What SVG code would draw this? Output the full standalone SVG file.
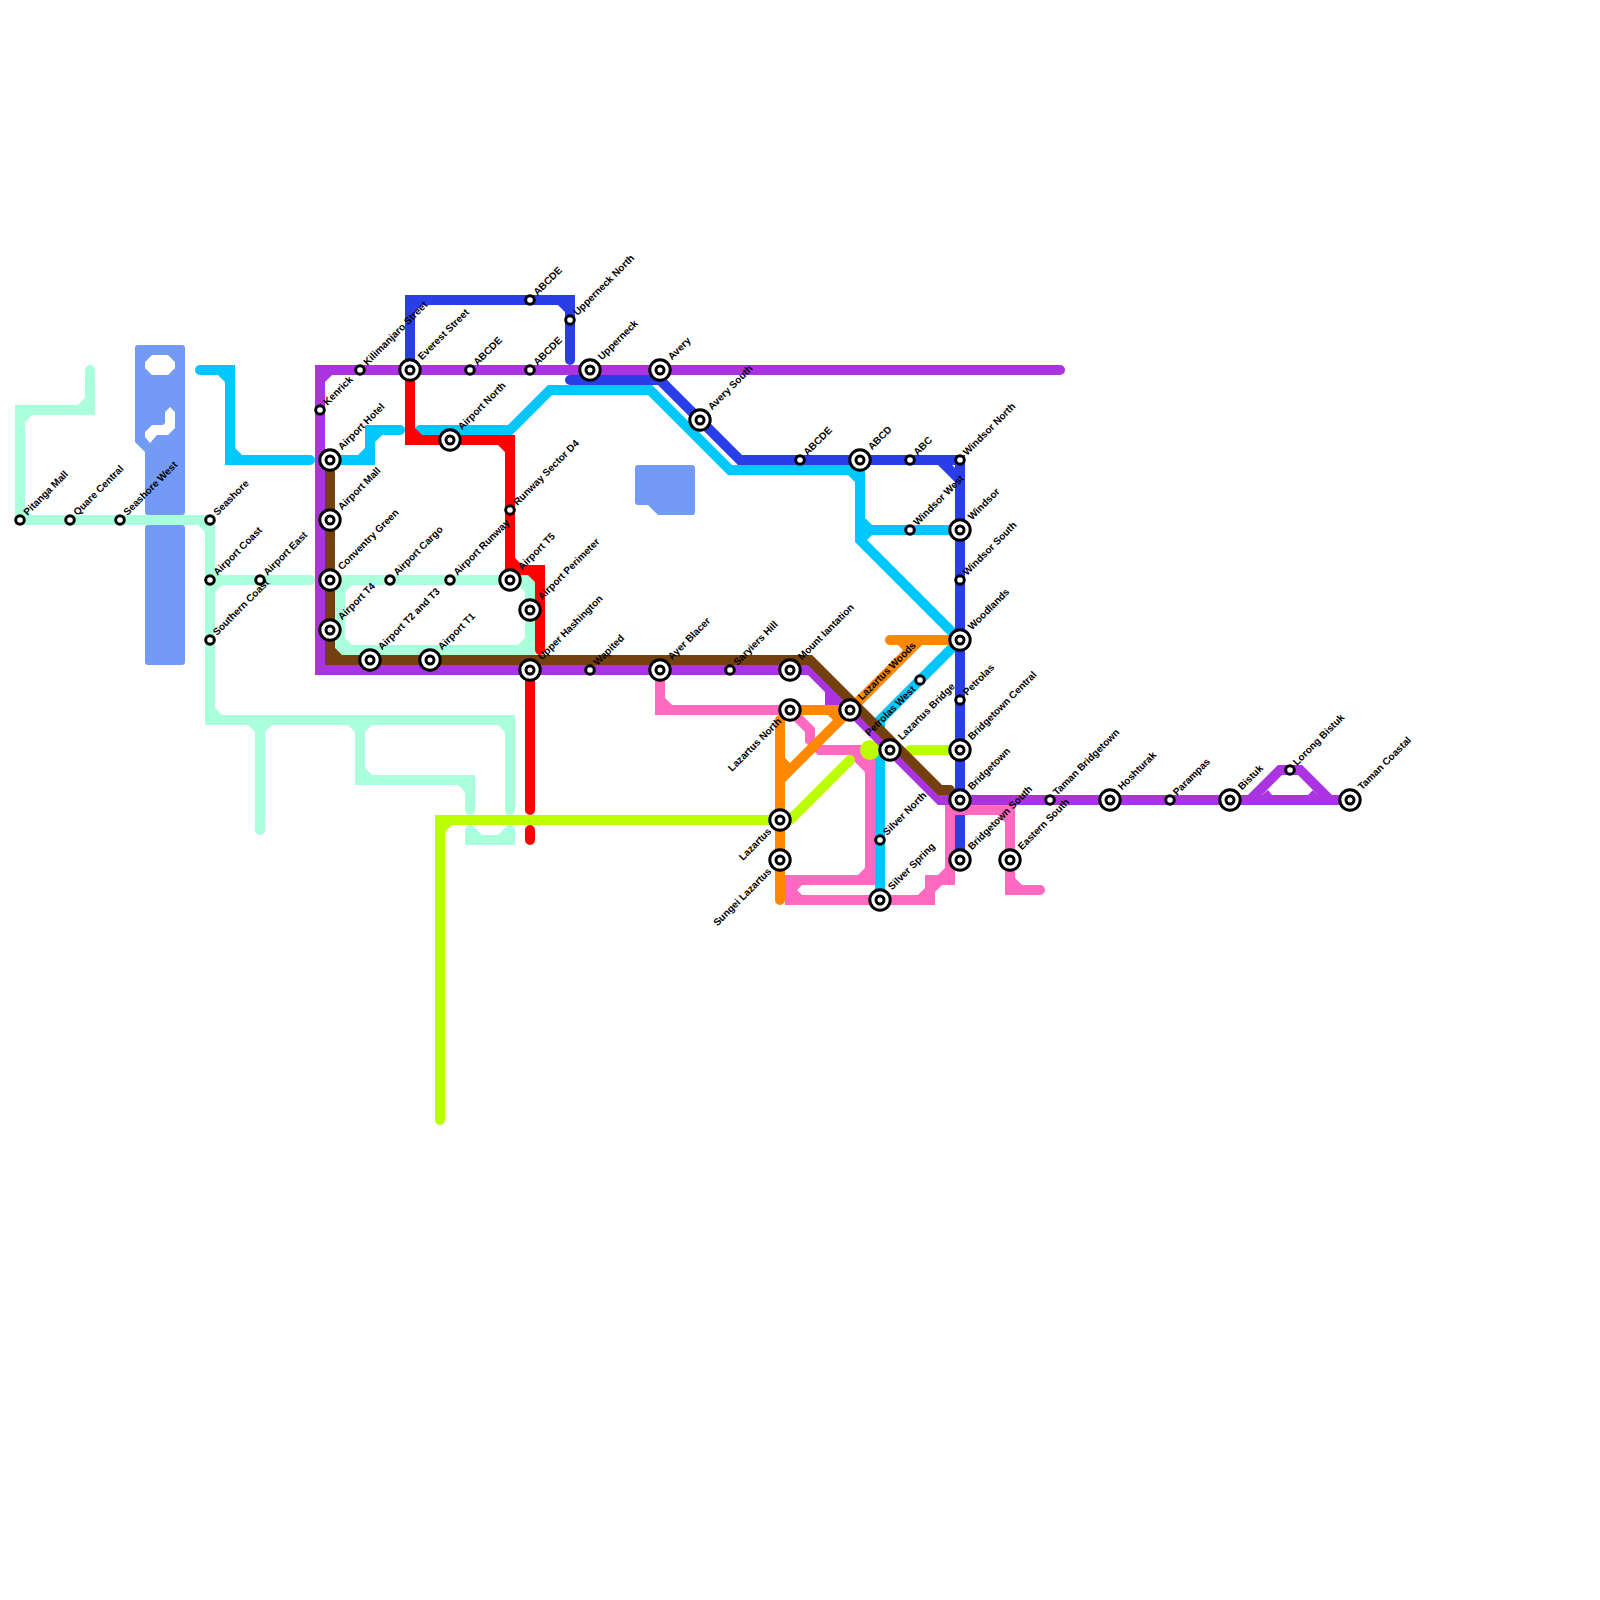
<svg xmlns="http://www.w3.org/2000/svg" width="1600" height="1600" viewBox="0 0 1600 1600">
<style>
.l{fill:none;stroke-width:10;stroke-linecap:round;stroke-linejoin:miter;stroke-miterlimit:4}
.mint{stroke:#aaffdd}.cyan{stroke:#00c8ff}.blue{stroke:#2a3ee8}.pink{stroke:#ff69c0}.lime{stroke:#bbff00}.purple{stroke:#aa35e0}.red{stroke:#ff0000}.orange{stroke:#ff8800}.brown{stroke:#75400f}
text{font-family:"Liberation Sans",Arial,sans-serif;font-size:10px;font-weight:bold;fill:#000}
.e{text-anchor:end}
</style>
<defs>
<g id="big"><circle r="10.2" fill="#fff" stroke="#000" stroke-width="3"/><circle r="4" fill="#fff" stroke="#000" stroke-width="3"/></g>
<g id="small"><circle r="4.3" fill="#fff" stroke="#000" stroke-width="3"/></g>
</defs>
<rect width="1600" height="1600" fill="#fff"/>
<g id="water" fill="#739bf5" fill-rule="evenodd">
<path d="M138 345H182Q185 345 185 348V512Q185 515 182 515H148Q145 515 145 512V452L135 442V348Q135 345 138 345ZM145 362L152 355H168L175 362V368L168 375H152L145 368ZM170 407L175 412V428L168 435H157L150 443L145 437V432L152 425H163L165 423V412Z"/>
<rect x="145" y="525" width="40" height="140" rx="3"/>
<path d="M638 465H692Q695 465 695 468V512Q695 515 692 515H658L648 505H638Q635 505 635 502V468Q635 465 638 465Z"/>
</g>
<g id="connectors">
<path class="l mint" d="M90 370V410H20V520H210V720H510V810M210 580H310M260 720V830M360 720V780H470V810M330 580H530V650H340V580M470 830V840H510V830M80 410L90 400M20 420L30 410M20 510L30 520M200 520L210 530M210 570L220 580M210 590L220 580M210 710L220 720M250 720L260 730M270 720L260 730M350 720L360 730M370 720L360 730M360 770L370 780M460 780L470 790M500 720L510 730M340 590L350 580M520 580L530 590M530 640L520 650M340 640L350 650M470 830L480 840M500 840L510 830"/>
<path class="l cyan" d="M200 370H230V460H310M330 460H370V430H400M420 430H510L550 390H650L730 470H860V540L960 640L880 720V900M860 530H960M220 370L230 380M230 450L240 460M360 460L370 450M370 440L380 430M850 470L860 480M860 520L870 530M860 540L870 530"/>
<path class="l blue" d="M410 370V300H570V360M570 380H660L740 460H960V860M410 310L420 300M560 300L570 310M940 460L960 480"/>
<path class="l pink" d="M660 670V710H790L810 730V740L820 750H870V880H790V900H930V880H950V810H1010V890H1040M660 700L670 710M850 750L870 770M870 870L860 880M790 890L800 880M790 890L800 900M920 900L930 890M930 890L940 880M950 870L940 880M1000 810L1010 820M1010 880L1020 890"/>
<path class="l lime" d="M440 1120V820H780M790 820L850 760M910 750H960M440 830L450 820"/>
<circle cx="870" cy="750" r="10" fill="#bbff00"/>
<path class="l purple" d="M1060 370H320V670H810L940 800H1350M830 690V700H840M1250 800L1280 770H1300L1330 800M320 380L330 370"/>
<polygon fill="#aa35e0" points="1262,795 1268,790 1272,795 1272,800 1262,800"/>
<polygon fill="#aa35e0" points="1318,795 1313,790 1308,795 1308,800 1318,800"/>
<path class="l red" d="M410 370V440H510V570H540V650M530 670V810M530 830V840M410 430L420 440M500 440L510 450M510 560L520 570M530 570L540 580"/>
<path class="l orange" d="M780 720V900M790 710H850L780 780M890 640H960M850 710L920 640M780 760L790 770M830 710L840 720M900 640L910 650"/>
<path class="l brown" d="M330 460V660H810L940 790H950M330 650L340 660"/>
</g>
<g id="n-pitanga-mall"><use href="#small" x="20" y="520"/><text transform="translate(27.5 516) rotate(-45)">Pitanga Mall</text></g>
<g id="n-quare-central"><use href="#small" x="70" y="520"/><text transform="translate(77.5 516) rotate(-45)">Quare Central</text></g>
<g id="n-seashore-west"><use href="#small" x="120" y="520"/><text transform="translate(127.5 516) rotate(-45)">Seashore West</text></g>
<g id="n-seashore"><use href="#small" x="210" y="520"/><text transform="translate(217.5 516) rotate(-45)">Seashore</text></g>
<g id="n-airport-coast"><use href="#small" x="210" y="580"/><text transform="translate(217.5 576) rotate(-45)">Airport Coast</text></g>
<g id="n-airport-east"><use href="#small" x="260" y="580"/><text transform="translate(267.5 576) rotate(-45)">Airport East</text></g>
<g id="n-southern-coast"><use href="#small" x="210" y="640"/><text transform="translate(217 636) rotate(-45)">Southern Coast</text></g>
<g id="n-kenrick"><use href="#small" x="320" y="410"/><text transform="translate(327.5 406) rotate(-45)">Kenrick</text></g>
<g id="n-kilimanjaro"><use href="#small" x="360" y="370"/><text transform="translate(367.5 366) rotate(-45)">Kilimanjaro Street</text></g>
<g id="n-everest"><use href="#big" x="410" y="370"/><text transform="translate(422 360.5) rotate(-45)">Everest Street</text></g>
<g id="n-abcde-1"><use href="#small" x="470" y="370"/><text transform="translate(477.5 366) rotate(-45)">ABCDE</text></g>
<g id="n-abcde-2"><use href="#small" x="530" y="370"/><text transform="translate(537.5 366) rotate(-45)">ABCDE</text></g>
<g id="n-abcde-3"><use href="#small" x="530" y="300"/><text transform="translate(537.5 296) rotate(-45)">ABCDE</text></g>
<g id="n-upperneck-north"><use href="#small" x="570" y="320"/><text transform="translate(577.5 316) rotate(-45)">Upperneck North</text></g>
<g id="n-upperneck"><use href="#big" x="590" y="370"/><text transform="translate(602 360.5) rotate(-45)">Upperneck</text></g>
<g id="n-avery"><use href="#big" x="660" y="370"/><text transform="translate(672 360.5) rotate(-45)">Avery</text></g>
<g id="n-avery-south"><use href="#big" x="700" y="420"/><text transform="translate(712 410.5) rotate(-45)">Avery South</text></g>
<g id="n-abcde-4"><use href="#small" x="800" y="460"/><text transform="translate(807.5 456) rotate(-45)">ABCDE</text></g>
<g id="n-abcd"><use href="#big" x="860" y="460"/><text transform="translate(872 450.5) rotate(-45)">ABCD</text></g>
<g id="n-abc"><use href="#small" x="910" y="460"/><text transform="translate(917.5 456) rotate(-45)">ABC</text></g>
<g id="n-windsor-north"><use href="#small" x="960" y="460"/><text transform="translate(967 456) rotate(-45)">Windsor North</text></g>
<g id="n-windsor-west"><use href="#small" x="910" y="530"/><text transform="translate(917.5 526) rotate(-45)">Windsor West</text></g>
<g id="n-windsor"><use href="#big" x="960" y="530"/><text transform="translate(972 520.5) rotate(-45)">Windsor</text></g>
<g id="n-windsor-south"><use href="#small" x="960" y="580"/><text transform="translate(967 576) rotate(-45)">Windsor South</text></g>
<g id="n-woodlands"><use href="#big" x="960" y="640"/><text transform="translate(972 630.5) rotate(-45)">Woodlands</text></g>
<g id="n-petrolas"><use href="#small" x="960" y="700"/><text transform="translate(967 696) rotate(-45)">Petrolas</text></g>
<g id="n-bridgetown-central"><use href="#big" x="960" y="750"/><text transform="translate(972 740.5) rotate(-45)">Bridgetown Central</text></g>
<g id="n-bridgetown"><use href="#big" x="960" y="800"/><text transform="translate(972 790.5) rotate(-45)">Bridgetown</text></g>
<g id="n-bridgetown-south"><use href="#big" x="960" y="860"/><text transform="translate(972 850.5) rotate(-45)">Bridgetown South</text></g>
<g id="n-eastern-south"><use href="#big" x="1010" y="860"/><text transform="translate(1022 850.5) rotate(-45)">Eastern South</text></g>
<g id="n-taman-bridgetown"><use href="#small" x="1050" y="800"/><text transform="translate(1057 796) rotate(-45)">Taman Bridgetown</text></g>
<g id="n-hoshturak"><use href="#big" x="1110" y="800"/><text transform="translate(1122 790.5) rotate(-45)">Hoshturak</text></g>
<g id="n-parampas"><use href="#small" x="1170" y="800"/><text transform="translate(1177 796) rotate(-45)">Parampas</text></g>
<g id="n-bistuk"><use href="#big" x="1230" y="800"/><text transform="translate(1242 790.5) rotate(-45)">Bistuk</text></g>
<g id="n-lorong-bistuk"><use href="#small" x="1290" y="770"/><text transform="translate(1297 766) rotate(-45)">Lorong Bistuk</text></g>
<g id="n-taman-coastal"><use href="#big" x="1350" y="800"/><text transform="translate(1362 790.5) rotate(-45)">Taman Coastal</text></g>
<g id="n-airport-hotel"><use href="#big" x="330" y="460"/><text transform="translate(342 450.5) rotate(-45)">Airport Hotel</text></g>
<g id="n-airport-mall"><use href="#big" x="330" y="520"/><text transform="translate(342 510.5) rotate(-45)">Airport Mall</text></g>
<g id="n-conventry-green"><use href="#big" x="330" y="580"/><text transform="translate(342 570.5) rotate(-45)">Conventry Green</text></g>
<g id="n-airport-t4"><use href="#big" x="330" y="630"/><text transform="translate(342 620.5) rotate(-45)">Airport T4</text></g>
<g id="n-airport-t2-t3"><use href="#big" x="370" y="660"/><text transform="translate(382 650.5) rotate(-45)">Airport T2 and T3</text></g>
<g id="n-airport-t1"><use href="#big" x="430" y="660"/><text transform="translate(442 650.5) rotate(-45)">Airport T1</text></g>
<g id="n-airport-cargo"><use href="#small" x="390" y="580"/><text transform="translate(397.5 576) rotate(-45)">Airport Cargo</text></g>
<g id="n-airport-runway"><use href="#small" x="450" y="580"/><text transform="translate(457.5 576) rotate(-45)">Airport Runway</text></g>
<g id="n-airport-t5"><use href="#big" x="510" y="580"/><text transform="translate(522 570.5) rotate(-45)">Airport T5</text></g>
<g id="n-runway-d4"><use href="#small" x="510" y="510"/><text transform="translate(517.5 506) rotate(-45)">Runway Sector D4</text></g>
<g id="n-airport-perimeter"><use href="#big" x="530" y="610"/><text transform="translate(542 600.5) rotate(-45)">Airport Perimeter</text></g>
<g id="n-upper-hashington"><use href="#big" x="530" y="670"/><text transform="translate(542 660.5) rotate(-45)">Upper Hashington</text></g>
<g id="n-airport-north"><use href="#big" x="450" y="440"/><text transform="translate(462 430.5) rotate(-45)">Airport North</text></g>
<g id="n-wapited"><use href="#small" x="590" y="670"/><text transform="translate(597.5 666) rotate(-45)">Wapited</text></g>
<g id="n-ayer-blacer"><use href="#big" x="660" y="670"/><text transform="translate(672 660.5) rotate(-45)">Ayer Blacer</text></g>
<g id="n-saryiers-hill"><use href="#small" x="730" y="670"/><text transform="translate(737.5 666) rotate(-45)">Saryiers Hill</text></g>
<g id="n-mount-iantation"><use href="#big" x="790" y="670"/><text transform="translate(802 660.5) rotate(-45)">Mount Iantation</text></g>
<g id="n-lazartus-north"><use href="#big" x="790" y="710"/><text class="e" transform="translate(782 722) rotate(-45)">Lazartus North</text></g>
<g id="n-lazartus-woods"><use href="#big" x="850" y="710"/><text transform="translate(862 700.5) rotate(-45)">Lazartus Woods</text></g>
<g id="n-petrolas-west"><use href="#small" x="920" y="680"/><text class="e" transform="translate(916 690) rotate(-45)">Petrolas West</text></g>
<g id="n-lazartus-bridge"><use href="#big" x="890" y="750"/><text transform="translate(902 740.5) rotate(-45)">Lazartus Bridge</text></g>
<g id="n-silver-north"><use href="#small" x="880" y="840"/><text transform="translate(887 836) rotate(-45)">Silver North</text></g>
<g id="n-silver-spring"><use href="#big" x="880" y="900"/><text transform="translate(892 890.5) rotate(-45)">Silver Spring</text></g>
<g id="n-lazartus"><use href="#big" x="780" y="820"/><text class="e" transform="translate(772 832) rotate(-45)">Lazartus</text></g>
<g id="n-sungei-lazartus"><use href="#big" x="780" y="860"/><text class="e" transform="translate(772 872) rotate(-45)">Sungei Lazartus</text></g>
</svg>
